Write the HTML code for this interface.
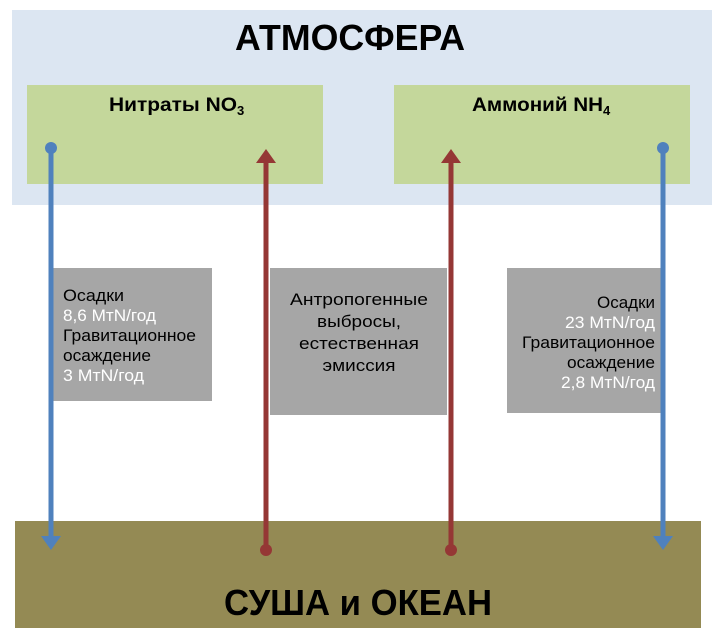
<!DOCTYPE html>
<html><head><meta charset="utf-8"><style>body{margin:0;background:#fff}svg{display:block}text{font-family:"Liberation Sans",sans-serif}</style></head><body>
<svg width="717" height="639" viewBox="0 0 717 639" xmlns="http://www.w3.org/2000/svg">
<rect x="12" y="10" width="700" height="195" fill="#dce6f2"/>
<rect x="27" y="85" width="296" height="99" fill="#c4d79b"/>
<rect x="394" y="85" width="296" height="99" fill="#c4d79b"/>
<text x="350" y="50" font-size="36" font-weight="bold" text-anchor="middle" textLength="230" lengthAdjust="spacingAndGlyphs">АТМОСФЕРА</text>
<text x="109" y="111" font-size="19" font-weight="bold" textLength="128" lengthAdjust="spacingAndGlyphs">Нитраты NO</text>
<text x="237" y="115" font-size="13" font-weight="bold">3</text>
<text x="472" y="111" font-size="19" font-weight="bold" textLength="131" lengthAdjust="spacingAndGlyphs">Аммоний NH</text>
<text x="603" y="115" font-size="13" font-weight="bold">4</text>
<rect x="15" y="521" width="686" height="107" fill="#948a54"/>
<text x="358" y="615" font-size="36" font-weight="bold" text-anchor="middle" textLength="268" lengthAdjust="spacingAndGlyphs">СУША и ОКЕАН</text>
<rect x="53" y="268" width="159" height="133" fill="#a6a6a6"/>
<rect x="270" y="268" width="177" height="147" fill="#a6a6a6"/>
<rect x="507" y="268" width="156" height="145" fill="#a6a6a6"/>
<g font-size="17">
<text x="63" y="301" textLength="61" lengthAdjust="spacingAndGlyphs">Осадки</text>
<text x="63" y="321" fill="#fff" textLength="93" lengthAdjust="spacingAndGlyphs">8,6 MтN/год</text>
<text x="63" y="341" textLength="133" lengthAdjust="spacingAndGlyphs">Гравитационное</text>
<text x="63" y="361" textLength="88" lengthAdjust="spacingAndGlyphs">осаждение</text>
<text x="63" y="381" fill="#fff" textLength="81" lengthAdjust="spacingAndGlyphs">3 MтN/год</text>
<g text-anchor="middle">
<text x="359" y="305" textLength="138" lengthAdjust="spacingAndGlyphs">Антропогенные</text>
<text x="359" y="327" textLength="84" lengthAdjust="spacingAndGlyphs">выбросы,</text>
<text x="359" y="349" textLength="120" lengthAdjust="spacingAndGlyphs">естественная</text>
<text x="359" y="371" textLength="73" lengthAdjust="spacingAndGlyphs">эмиссия</text>
</g>
<g text-anchor="end">
<text x="655" y="308" textLength="58" lengthAdjust="spacingAndGlyphs">Осадки</text>
<text x="655" y="328" fill="#fff" textLength="90" lengthAdjust="spacingAndGlyphs">23 MтN/год</text>
<text x="655" y="348" textLength="133" lengthAdjust="spacingAndGlyphs">Гравитационное</text>
<text x="655" y="368" textLength="88" lengthAdjust="spacingAndGlyphs">осаждение</text>
<text x="655" y="388" fill="#fff" textLength="94" lengthAdjust="spacingAndGlyphs">2,8 MтN/год</text>
</g>
</g>
<g stroke-width="5">
<line x1="51" y1="147" x2="51" y2="540" stroke="#4f81bd"/>
<line x1="663" y1="147" x2="663" y2="540" stroke="#4f81bd"/>
<line x1="266" y1="160" x2="266" y2="550" stroke="#953735"/>
<line x1="451" y1="160" x2="451" y2="550" stroke="#953735"/>
</g>
<ellipse cx="51" cy="148" rx="6" ry="6" fill="#4f81bd"/>
<ellipse cx="663" cy="148" rx="6" ry="6" fill="#4f81bd"/>
<polygon points="41,536 61,536 51,550" fill="#4f81bd"/>
<polygon points="653,536 673,536 663,550" fill="#4f81bd"/>
<ellipse cx="266" cy="550" rx="6" ry="6" fill="#953735"/>
<ellipse cx="451" cy="550" rx="6" ry="6" fill="#953735"/>
<polygon points="256,163 276,163 266,149" fill="#953735"/>
<polygon points="441,163 461,163 451,149" fill="#953735"/>
</svg>
</body></html>
